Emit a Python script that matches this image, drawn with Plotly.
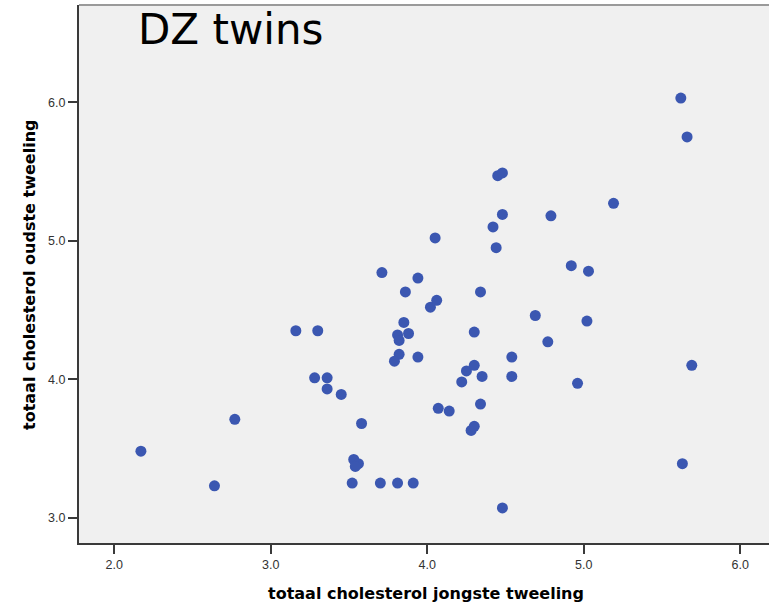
import plotly.graph_objects as go

# Total cholesterol of dizygotic twin pairs (mmol/l)
jongste = [2.17, 2.64, 2.77, 3.16, 3.30, 3.28, 3.36, 3.36, 3.45, 3.58,
           3.53, 3.56, 3.54, 3.52, 3.70, 3.81, 3.91, 4.48,
           3.81, 3.82, 3.88, 3.82, 3.79, 3.94, 3.85, 3.86, 3.71, 3.94,
           4.05, 4.02, 4.06, 4.34, 4.30, 4.25, 4.30, 4.22, 4.35, 4.07,
           4.14, 4.34, 4.28, 4.30, 4.45, 4.48, 4.48, 4.42, 4.44, 4.79,
           5.19, 4.92, 5.03, 4.69, 5.02, 4.77, 4.54, 4.54, 4.96, 5.62,
           5.66, 5.69, 5.63]
oudste = [3.48, 3.23, 3.71, 4.35, 4.35, 4.01, 4.01, 3.93, 3.89, 3.68,
          3.42, 3.39, 3.37, 3.25, 3.25, 3.25, 3.25, 3.07,
          4.32, 4.28, 4.33, 4.18, 4.13, 4.16, 4.41, 4.63, 4.77, 4.73,
          5.02, 4.52, 4.57, 4.63, 4.34, 4.06, 4.10, 3.98, 4.02, 3.79,
          3.77, 3.82, 3.63, 3.66, 5.47, 5.49, 5.19, 5.10, 4.95, 5.18,
          5.27, 4.82, 4.78, 4.46, 4.42, 4.27, 4.16, 4.02, 3.97, 6.03,
          5.75, 4.10, 3.39]

x_ticks = [2.0, 3.0, 4.0, 5.0, 6.0]
y_ticks = [3.0, 4.0, 5.0, 6.0]

fig = go.Figure()
fig.add_trace(go.Scatter(
    x=jongste, y=oudste, mode="markers",
    marker=dict(size=11, color="#3b57b1", line=dict(width=0)),
    hoverinfo="x+y", showlegend=False,
))

axis_common = dict(
    showgrid=False, zeroline=False, showline=True,
    linecolor="#3a3a3a", linewidth=2,
    ticks="outside", ticklen=9, tickwidth=2, tickcolor="#3a3a3a",
    tickfont=dict(family="Liberation Sans, Arial, sans-serif", size=12.5, color="#333333"),
    tickformat=".1f",
)

fig.update_layout(
    width=769, height=604,
    margin=dict(l=79, r=0, t=5, b=61),
    paper_bgcolor="white",
    plot_bgcolor="#f0f0f0",
    xaxis=dict(range=[1.7744, 6.1834], tickvals=x_ticks, **axis_common),
    yaxis=dict(range=[2.817, 6.7025], tickvals=y_ticks, **axis_common),
    shapes=[dict(type="line", xref="paper", yref="paper",
                 x0=0, x1=1, y0=1, y1=1,
                 line=dict(color="#9a9a9a", width=2))],
    annotations=[
        dict(text="DZ twins", xref="paper", yref="paper",
             x=(230 - 79) / 690, y=(543 - 30) / 538,
             xanchor="center", yanchor="middle", showarrow=False,
             font=dict(family="DejaVu Sans, sans-serif", size=42, color="black")),
        dict(text="<b>totaal cholesterol jongste tweeling</b>",
             xref="paper", yref="paper",
             x=(426 - 79) / 690, y=-(593 - 543) / 538,
             xanchor="center", yanchor="middle", showarrow=False,
             font=dict(family="DejaVu Sans, sans-serif", size=16, color="black")),
        dict(text="<b>totaal cholesterol oudste tweeling</b>",
             xref="paper", yref="paper",
             x=-(79 - 29) / 690, y=(543 - 275) / 538,
             xanchor="center", yanchor="middle", showarrow=False, textangle=-90,
             font=dict(family="DejaVu Sans, sans-serif", size=16, color="black")),
    ],
)

fig.write_html("out.html")
